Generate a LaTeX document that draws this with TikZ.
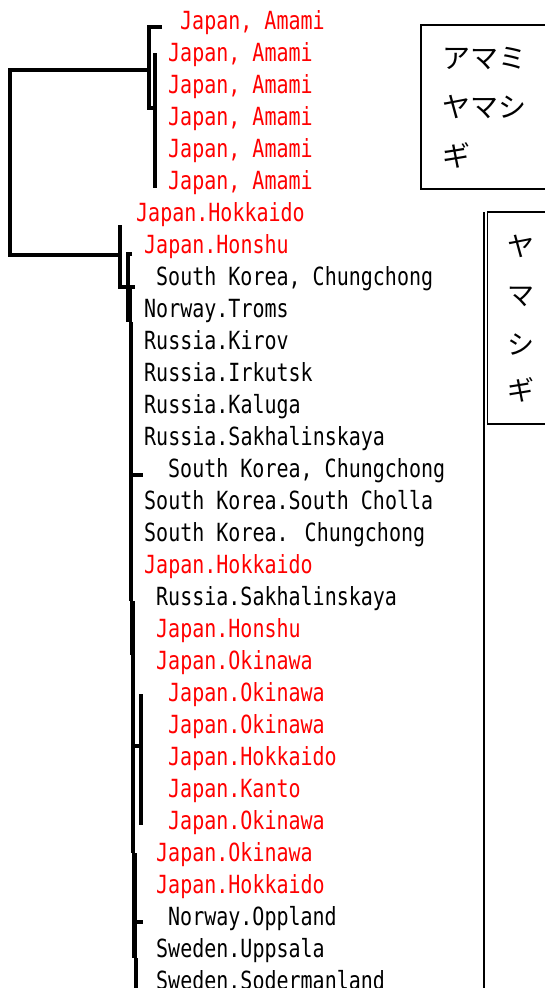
\documentclass[tikz,border=0pt]{standalone}
\usepackage{fontspec}
\newfontfamily\labfont[FakeStretch=0.80]{DejaVu Sans Mono}
\newfontfamily\jpfont{Noto Sans CJK JP}
\begin{document}
\begin{tikzpicture}[x=1pt,y=-1pt,
  lab/.style={anchor=base west,inner sep=0pt,font=\labfont\fontsize{25}{28}\selectfont},
  jp/.style={lab,text=red},
  oth/.style={lab,text=black},
  kana/.style={anchor=west,inner sep=0pt,font=\jpfont\fontsize{28}{30}\selectfont},
  kanab/.style={anchor=west,inner sep=0pt,font=\jpfont\fontsize{27}{30}\selectfont},
  br/.style={line width=3.5pt,line cap=butt},
  thickbr/.style={line width=5.5pt,line cap=butt},
  boxline/.style={line width=1.6pt}]
\useasboundingbox (0,0) rectangle (544,988);
% ---------- labels ----------
\node[jp]  (l1)  at (180,29)  {Japan, Amami};
\node[jp]  (l2)  at (168,61)  {Japan, Amami};
\node[jp]  (l3)  at (168,93)  {Japan, Amami};
\node[jp]  (l4)  at (168,125) {Japan, Amami};
\node[jp]  (l5)  at (168,157) {Japan, Amami};
\node[jp]  (l6)  at (168,189) {Japan, Amami};
\node[jp]  (l7)  at (136,221) {Japan.Hokkaido};
\node[jp]  (l8)  at (144,253) {Japan.Honshu};
\node[oth] (l9)  at (156,285) {South Korea, Chungchong};
\node[oth] (l10) at (144,317) {Norway.Troms};
\node[oth] (l11) at (144,349) {Russia.Kirov};
\node[oth] (l12) at (144,381) {Russia.Irkutsk};
\node[oth] (l13) at (144,413) {Russia.Kaluga};
\node[oth] (l14) at (144,445) {Russia.Sakhalinskaya};
\node[oth] (l15) at (168,477) {South Korea, Chungchong};
\node[oth] (l16) at (144,509) {South Korea.South Cholla};
\node[oth] (l17) at (144,541) {South Korea. Chungchong};
\node[jp]  (l18) at (144,573) {Japan.Hokkaido};
\node[oth] (l19) at (156,605) {Russia.Sakhalinskaya};
\node[jp]  (l20) at (156,637) {Japan.Honshu};
\node[jp]  (l21) at (156,669) {Japan.Okinawa};
\node[jp]  (l22) at (168,701) {Japan.Okinawa};
\node[jp]  (l23) at (168,733) {Japan.Okinawa};
\node[jp]  (l24) at (168,765) {Japan.Hokkaido};
\node[jp]  (l25) at (168,797) {Japan.Kanto};
\node[jp]  (l26) at (168,829) {Japan.Okinawa};
\node[jp]  (l27) at (156,861) {Japan.Okinawa};
\node[jp]  (l28) at (156,893) {Japan.Hokkaido};
\node[oth] (l29) at (168,925) {Norway.Oppland};
\node[oth] (l30) at (156,957) {Sweden.Uppsala};
\node[oth] (l31) at (156,989) {Sweden.Sodermanland};
% ---------- tree ----------
\draw[br] (149,70) -| (10,255) -- (120,255);
\draw[br] (162,27) -- (149,27) -- (149,108) -- (156,108);
\draw[br] (155,53) -- (155,188);
\draw[br] (120,225) -- (120,287) -- (135,287);
\draw[br] (132,254) -- (128,254) -- (128,287);
\draw[thickbr] (129,287) -- (129,322);
\draw[br] (131,322) -- (131,601);
\draw[br] (131,475) -- (143,475);
\draw[thickbr] (132.5,601) -- (132.5,655);
\draw[br] (133,655) -- (133,853);
\draw[br] (133,746) -- (141,746);
\draw[br] (141,694) -- (141,825);
\draw[thickbr] (134.5,853) -- (134.5,958);
\draw[br] (134,922) -- (143,922);
\draw[br] (136,958) -- (136,988);
% ---------- boxes ----------
\draw[boxline] (550,25) -- (421,25) -- (421,189) -- (550,189);
\node[kana] (a1) at (442,59)  {アマミ};
\node[kana] (a2) at (442,107) {ヤマシ};
\node[kana] (a3) at (442,155) {ギ};
\draw[boxline] (550,212) -- (487.5,212) -- (487.5,424) -- (550,424);
\draw[line width=2pt] (484,212) -- (484,988);
\node[kanab] (b1) at (507,246) {ヤ};
\node[kanab] (b2) at (507,297) {マ};
\node[kanab] (b3) at (507,345) {シ};
\node[kanab] (b4) at (507,390) {ギ};
\end{tikzpicture}
\end{document}
